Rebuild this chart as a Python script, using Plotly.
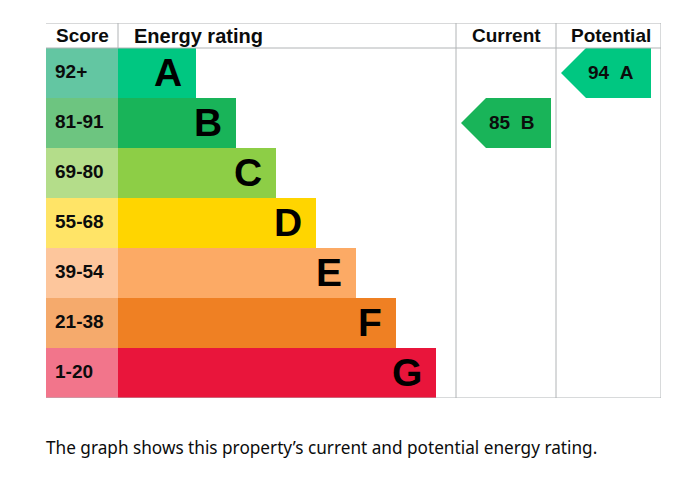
import plotly.graph_objects as go

# ---- data ----
bands = ["A", "B", "C", "D", "E", "F", "G"]
score_ranges = ["92+", "81-91", "69-80", "55-68", "39-54", "21-38", "1-20"]
band_colors = ["#00c781", "#19b459", "#8dce46", "#ffd500", "#fcaa65", "#ef8023", "#e9153b"]
score_colors = ["#63c6a2", "#6dc580", "#b4dd8a", "#ffe467", "#fdc69c", "#f5aa6c", "#f2758b"]
current_score = 85
current_band = "B"
potential_score = 94
potential_band = "A"
headers = ["Score", "Energy rating", "Current", "Potential"]
caption = "The graph shows this property\u2019s current and potential energy rating."

# ---- layout constants (axis units = pixels of the plot area) ----
W, H = 667, 482           # page body has an 8px margin
ML, MR, MT, MB = 38, 14, 15, 92
PW = W - ML - MR          # 615
SCORE_W = 72
COL_CUR = 410
COL_POT = 510
HDR = 0.5                 # header height in row units
NROWS = len(bands)
GRID = "#b1b4b6"
TXT = "#0b0c0c"
FONT = "Liberation Sans, Arial, sans-serif"

rows = [i + 1 for i in range(NROWS)]
bar_len = [40 * (i + 1) + 38 for i in range(NROWS)]

fig = go.Figure()

# score cells
fig.add_trace(go.Bar(
    orientation="h", y=rows, x=[SCORE_W] * NROWS, base=0, width=1.0,
    marker=dict(color=score_colors, line=dict(width=0)),
    hoverinfo="skip", showlegend=False))

# band bars
fig.add_trace(go.Bar(
    orientation="h", y=rows, x=bar_len, base=SCORE_W, width=1.0,
    marker=dict(color=band_colors, line=dict(width=0)),
    hoverinfo="skip", showlegend=False))

annotations = []
for i, b in enumerate(bands):
    annotations.append(dict(x=SCORE_W + bar_len[i] - 12, y=rows[i] - 0.01, text="<b>%s</b>" % b,
                            xanchor="right", yanchor="middle", showarrow=False,
                            font=dict(family=FONT, size=39, color="#000000")))
    annotations.append(dict(x=7, y=rows[i] - 0.03, text="<b>%s</b>" % score_ranges[i],
                            xanchor="left", yanchor="middle", showarrow=False,
                            font=dict(family=FONT, size=19, color=TXT)))


def arrow(col_left, band, score):
    r = rows[bands.index(band)]
    tip = col_left + 5
    notch = tip + 25
    right = col_left + 95
    xs = [tip, notch, right, right, notch, tip]
    ys = [r, r - 0.5, r - 0.5, r + 0.5, r + 0.5, r]
    fig.add_trace(go.Scatter(x=xs, y=ys, mode="lines", fill="toself",
                             fillcolor=band_colors[bands.index(band)],
                             line=dict(width=0, color=band_colors[bands.index(band)]),
                             hoverinfo="skip", showlegend=False))
    annotations.append(dict(x=right - 15, y=r - 0.02, text="<b>%d\u00a0\u00a0%s</b>" % (score, band),
                            xanchor="right", yanchor="middle", showarrow=False,
                            font=dict(family=FONT, size=19, color=TXT)))


arrow(COL_CUR, current_band, current_score)
arrow(COL_POT, potential_band, potential_score)

# headers
hdr_pos = [(8, "left"), (SCORE_W + 14, "left"), ((COL_CUR + COL_POT) / 2, "center"),
           ((COL_POT + PW) / 2 + 2, "center")]
for (hx, anc), h in zip(hdr_pos, headers):
    annotations.append(dict(x=hx, y=HDR / 2, text="<b>%s</b>" % h, xanchor=anc,
                            yanchor="middle", showarrow=False,
                            font=dict(family=FONT, size=20 if h == "Energy rating" else 19,
                                      color=TXT)))

# caption
annotations.append(dict(xref="paper", yref="paper", x=-2 / PW, y=-(447 - 398) / 375.0,
                        text=caption, xanchor="left", yanchor="middle", showarrow=False,
                        font=dict(family="Noto Sans, sans-serif", size=17.2, color=TXT)))

# grid lines
ymax = NROWS + HDR
shapes = []
line = dict(color=GRID, width=1)
for yv in [0, HDR, ymax]:
    shapes.append(dict(type="line", x0=0, x1=PW, y0=yv, y1=yv, line=line, layer="above"))
for xv in [COL_CUR, COL_POT, PW]:
    shapes.append(dict(type="line", x0=xv, x1=xv, y0=0, y1=ymax, line=line, layer="below"))
shapes.append(dict(type="line", x0=SCORE_W, x1=SCORE_W, y0=0, y1=HDR, line=line))

fig.update_layout(
    width=W, height=H, margin=dict(l=ML, r=MR, t=MT, b=MB, pad=0),
    paper_bgcolor="white", plot_bgcolor="white",
    xaxis=dict(range=[0, PW], visible=False, fixedrange=True),
    yaxis=dict(range=[ymax, 0], visible=False, fixedrange=True),
    barmode="overlay", bargap=0, annotations=annotations, shapes=shapes,
    showlegend=False)

fig.write_html("out.html", config={"displayModeBar": False})
